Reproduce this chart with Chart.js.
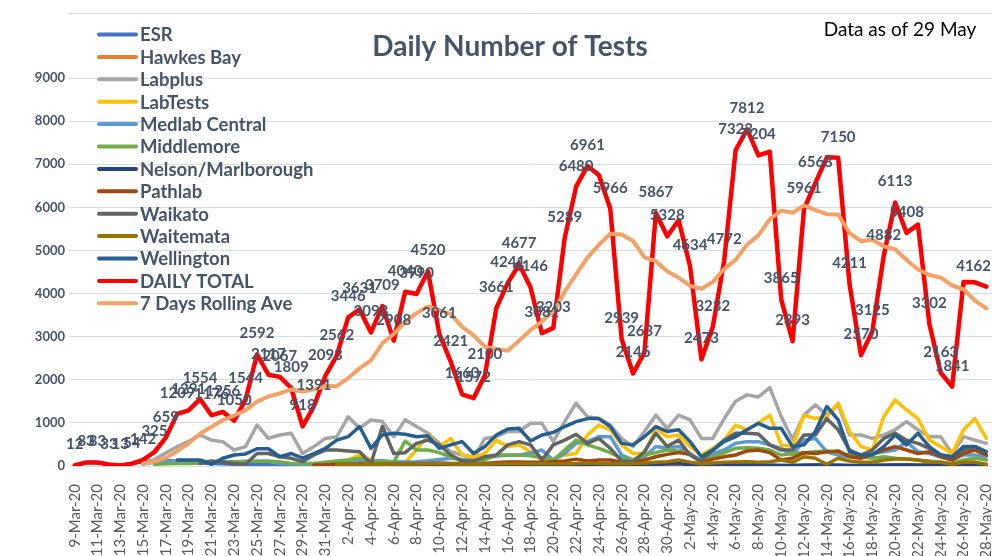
<!DOCTYPE html>
<html>
<head>
<meta charset="utf-8">
<script src="https://cdn.jsdelivr.net/npm/chart.js@4.4.0/dist/chart.umd.min.js"></script>
<style>
  body { margin: 0; background: #fff; }
  #wrap { width: 992px; height: 556px; position: relative; }
</style>
</head>
<body>
<div id="wrap"><canvas id="tests"></canvas></div>
<script>
// categories (every day, only every 2nd one is printed on the axis)
const dates = [
  '9-Mar-20','10-Mar-20','11-Mar-20','12-Mar-20','13-Mar-20','14-Mar-20','15-Mar-20','16-Mar-20','17-Mar-20','18-Mar-20',
  '19-Mar-20','20-Mar-20','21-Mar-20','22-Mar-20','23-Mar-20','24-Mar-20','25-Mar-20','26-Mar-20','27-Mar-20','28-Mar-20',
  '29-Mar-20','30-Mar-20','31-Mar-20','1-Apr-20','2-Apr-20','3-Apr-20','4-Apr-20','5-Apr-20','6-Apr-20','7-Apr-20',
  '8-Apr-20','9-Apr-20','10-Apr-20','11-Apr-20','12-Apr-20','13-Apr-20','14-Apr-20','15-Apr-20','16-Apr-20','17-Apr-20',
  '18-Apr-20','19-Apr-20','20-Apr-20','21-Apr-20','22-Apr-20','23-Apr-20','24-Apr-20','25-Apr-20','26-Apr-20','27-Apr-20',
  '28-Apr-20','29-Apr-20','30-Apr-20','1-May-20','2-May-20','3-May-20','4-May-20','5-May-20','6-May-20','7-May-20',
  '8-May-20','9-May-20','10-May-20','11-May-20','12-May-20','13-May-20','14-May-20','15-May-20','16-May-20','17-May-20',
  '18-May-20','19-May-20','20-May-20','21-May-20','22-May-20','23-May-20','24-May-20','25-May-20','26-May-20','27-May-20',
  '28-May-20'
];

const esr = [
  12, 83, 83, 33, 13, 54, 100, 120, 130, 110,
  90, 70, 60, 50, 40, 40, 30, 30, 30, 25,
  20, 20, 20, 25, 30, 30, 20, 20, 25, 30,
  30, 25, 20, 20, 15, 15, 20, 25, 25, 20,
  20, 15, 15, 20, 25, 25, 20, 20, 15, 10,
  15, 20, 25, 20, 15, 10, 15, 20, 20, 20,
  20, 15, 10, 10, 15, 20, 20, 15, 10, 10,
  15, 20, 25, 25, 20, 15, 10, 10, 15, 20,
  20
];
const hawkesBay = [
  null, null, null, null, null, null, null, null, null, null,
  null, null, null, null, null, null, null, null, null, null,
  null, null, null, null, null, null, null, null, null, null,
  null, null, null, null, null, null, null, null, null, null,
  5, 5, 10, 10, 15, 15, 10, 10, 5, 5,
  10, 15, 15, 15, 10, 5, 10, 15, 15, 15,
  15, 10, 5, 5, 10, 15, 15, 10, 5, 5,
  10, 20, 30, 35, 30, 25, 15, 5, 10, 15,
  15
];
const labplus = [
  null, null, null, null, null, null, 30, 150, 300, 450,
  570, 720, 600, 565, 370, 450, 950, 640, 720, 760,
  290, 450, 640, 680, 1140, 875, 1070, 1030, 680, 1070,
  915, 760, 525, 330, 255, 180, 640, 680, 800, 800,
  990, 990, 565, 1030, 1460, 1140, 1100, 950, 640, 450,
  800, 1180, 875, 1180, 1070, 640, 640, 1100, 1500, 1650,
  1600, 1820, 1150, 620, 1180, 1420, 1180, 1420, 720, 720,
  640, 720, 840, 1030, 840, 680, 680, 290, 680, 600,
  525
];
const labTests = [
  null, null, null, null, null, null, null, null, null, null,
  null, null, null, null, null, null, null, null, null, null,
  null, null, 50, 85, 140, 255, 140, 85, 85, 85,
  370, 720, 450, 640, 255, 215, 290, 600, 450, 490,
  330, 140, 140, 255, 290, 720, 950, 840, 490, 290,
  290, 875, 680, 720, 450, 255, 410, 600, 950, 840,
  1000, 1180, 490, 450, 1180, 1100, 1140, 1460, 800, 450,
  370, 1140, 1530, 1300, 1100, 600, 450, 290, 840, 1100,
  640
];
const medlabCentral = [
  null, null, null, null, null, null, 60, 80, 100, 110,
  110, 110, 100, 100, 100, 110, 110, 110, 60, 50,
  40, 40, 50, 60, 80, 100, 120, 120, 100, 90,
  100, 120, 150, 180, 150, 120, 180, 230, 250, 250,
  300, 370, 140, 290, 525, 565, 680, 680, 255, 140,
  215, 450, 410, 450, 290, 115, 290, 370, 525, 565,
  565, 490, 410, 255, 600, 640, 330, 255, 215, 255,
  290, 330, 370, 565, 330, 290, 215, 140, 255, 255,
  215
];
const middlemore = [
  null, null, null, null, null, null, null, 40, 50, 60,
  60, 70, 80, 90, 100, 100, 110, 110, 100, 60,
  60, 60, 85, 115, 140, 180, 115, 100, 85, 580,
  370, 370, 310, 215, 115, 100, 140, 255, 255, 255,
  240, 195, 140, 370, 600, 490, 410, 310, 180, 140,
  255, 310, 370, 350, 270, 115, 215, 310, 410, 425,
  410, 370, 255, 290, 310, 330, 350, 310, 255, 215,
  180, 215, 180, 160, 140, 115, 85, 60, 140, 180,
  140
];
const nelsonMarlborough = [
  null, null, null, null, null, null, null, null, null, null,
  null, null, null, null, null, null, null, null, null, null,
  null, 10, 10, 15, 15, 20, 20, 15, 15, 20,
  20, 25, 20, 15, 10, 10, 15, 20, 20, 20,
  20, 15, 15, 20, 25, 25, 20, 20, 15, 10,
  15, 30, 50, 60, 30, 10, 20, 25, 30, 30,
  25, 20, 10, 10, 20, 25, 25, 20, 10, 10,
  15, 20, 25, 25, 20, 15, 10, 10, 20, 25,
  20
];
const pathlab = [
  null, null, null, null, null, null, null, null, null, null,
  null, null, null, null, null, null, null, null, null, null,
  null, 20, 30, 40, 40, 50, 50, 40, 50, 60,
  60, 60, 70, 60, 50, 40, 60, 80, 90, 90,
  85, 85, 100, 115, 160, 115, 140, 140, 85, 85,
  140, 215, 270, 310, 270, 85, 160, 215, 255, 350,
  370, 310, 140, 180, 310, 290, 330, 350, 215, 180,
  270, 370, 450, 370, 290, 330, 215, 140, 290, 370,
  255
];
const waikato = [
  null, null, null, null, null, null, null, null, null, null,
  null, 60, 115, 85, 60, 40, 290, 290, 215, 180,
  100, 255, 370, 370, 350, 330, 60, 915, 290, 310,
  525, 600, 490, 255, 115, 115, 215, 255, 490, 565,
  490, 140, 490, 600, 735, 525, 640, 410, 115, 100,
  330, 760, 450, 600, 255, 115, 370, 600, 760, 760,
  740, 490, 370, 370, 720, 720, 1100, 840, 370, 255,
  370, 640, 760, 600, 525, 410, 255, 215, 370, 450,
  330
];
const waitemata = [
  null, null, null, null, null, null, null, null, null, null,
  null, null, null, null, null, null, null, null, null, null,
  null, null, null, 30, 40, 40, 40, 40, 45, 45,
  45, 50, 50, 45, 40, 40, 45, 50, 50, 50,
  55, 50, 50, 55, 60, 70, 60, 55, 50, 50,
  70, 85, 100, 140, 90, 50, 70, 85, 90, 100,
  85, 100, 140, 85, 215, 180, 40, 180, 115, 85,
  85, 140, 160, 160, 140, 85, 85, 40, 85, 85,
  40
];
const wellington = [
  null, null, null, null, null, null, null, null, null, 140,
  140, 140, 40, 180, 255, 280, 400, 400, 215, 290,
  180, 290, 410, 600, 680, 915, 410, 720, 760, 735,
  680, 700, 410, 490, 565, 290, 450, 720, 860, 875,
  580, 720, 780, 915, 1030, 1100, 1100, 915, 525, 490,
  680, 915, 800, 840, 565, 215, 370, 565, 680, 840,
  990, 875, 875, 450, 490, 800, 1380, 1070, 330, 255,
  255, 450, 720, 490, 760, 450, 255, 215, 450, 450,
  330
];
const dailyTotal = [
  12, 83, 83, 33, 13, 54, 142, 325, 659, 1209,
  1291, 1554, 1176, 1256, 1050, 1544, 2592, 2117, 2067, 1809,
  918, 1391, 2093, 2562, 3446, 3631, 3098, 3709, 2908, 4040,
  3990, 4520, 3061, 2421, 1660, 1572, 2100, 3661, 4241, 4677,
  4146, 3081, 3203, 5289, 6480, 6961, 6750, 5966, 2939, 2146,
  2637, 5867, 5328, 5700, 4634, 2473, 3232, 4772, 7323, 7812,
  7204, 7290, 3865, 2893, 5961, 6568, 7160, 7150, 4211, 2570,
  3125, 4882, 6113, 5408, 5600, 3302, 2163, 1841, 4270, 4260,
  4162
];
const rollingAve = [
  null, null, null, null, null, null, 60, 105, 187, 348,
  528, 748, 908, 1067, 1171, 1297, 1495, 1613, 1686, 1776,
  1728, 1777, 1855, 1851, 2041, 2264, 2448, 2847, 3064, 3342,
  3546, 3699, 3618, 3521, 3229, 3038, 2761, 2714, 2674, 2905,
  3151, 3354, 3587, 4043, 4445, 4834, 5130, 5390, 5370, 5219,
  4840, 4752, 4519, 4369, 4179, 4112, 4267, 4572, 4780, 5135,
  5350, 5724, 5923, 5874, 6044, 5936, 5842, 5834, 5400, 5215,
  5248, 5094, 5029, 4780, 4558, 4429, 4370, 4187, 4100, 3835,
  3657
];
// daily total points that carry no value label in the original
const noLabel = [46, 53, 61, 66, 74, 78, 79];

const textColor = '#44546A';
const fontFam = 'Lato, "Open Sans", sans-serif';

const series = [
  { label: 'ESR', data: esr, color: '#4472C4' },
  { label: 'Hawkes Bay', data: hawkesBay, color: '#ED7D31' },
  { label: 'Labplus', data: labplus, color: '#A5A5A5' },
  { label: 'LabTests', data: labTests, color: '#FFC000' },
  { label: 'Medlab Central', data: medlabCentral, color: '#5B9BD5' },
  { label: 'Middlemore', data: middlemore, color: '#70AD47' },
  { label: 'Nelson/Marlborough', data: nelsonMarlborough, color: '#264478' },
  { label: 'Pathlab', data: pathlab, color: '#9E480E' },
  { label: 'Waikato', data: waikato, color: '#636363' },
  { label: 'Waitemata', data: waitemata, color: '#997300' },
  { label: 'Wellington', data: wellington, color: '#255E91' },
  { label: 'DAILY TOTAL', data: dailyTotal, color: '#FF0000', width: 4.5 },
  { label: '7 Days Rolling Ave', data: rollingAve, color: '#F4A165', width: 4 }
];

const datasets = series.map((s, i) => ({
  label: s.label,
  data: s.data,
  borderColor: s.color,
  backgroundColor: s.color,
  borderWidth: s.width || 3.5,
  borderJoinStyle: 'round',
  borderCapStyle: 'round',
  pointRadius: 0,
  tension: 0,
  fill: false,
  order: series.length - i   // later series on top, like excel
}));

// title, note, legend and the value labels are painted by hand
const decor = {
  id: 'decor',
  beforeDatasetsDraw(chart) {
    const ctx = chart.ctx;
    ctx.save();
    ctx.strokeStyle = '#D9DEE6';
    ctx.lineWidth = 1;
    ctx.beginPath();
    ctx.moveTo(chart.chartArea.left, 13.5);
    ctx.lineTo(chart.chartArea.right, 13.5);
    ctx.stroke();
    ctx.restore();
  },
  afterDatasetsDraw(chart) {
    const ctx = chart.ctx;
    const meta = chart.getDatasetMeta(11);
    ctx.save();
    ctx.font = 'bold 15px ' + fontFam;
    ctx.fillStyle = textColor;
    ctx.textAlign = 'center';
    ctx.textBaseline = 'alphabetic';
    meta.data.forEach((pt, i) => {
      if (noLabel.includes(i)) return;
      const txt = String(dailyTotal[i]);
      const w = ctx.measureText(txt).width;
      const x = Math.min(pt.x, chart.width - w / 2 - 1);
      ctx.fillText(txt, x, pt.y - 16);
    });
    ctx.restore();
  },
  afterDraw(chart) {
    const ctx = chart.ctx;
    ctx.save();
    ctx.fillStyle = textColor;
    ctx.textAlign = 'center';
    ctx.textBaseline = 'middle';
    ctx.font = 'bold 28px ' + fontFam;
    ctx.fillText('Daily Number of Tests', 510, 47);

    ctx.fillStyle = '#000';
    ctx.font = '19px ' + fontFam;
    ctx.fillText('Data as of 29 May', 900, 30);

    // legend
    ctx.textAlign = 'left';
    ctx.font = 'bold 18.5px ' + fontFam;
    series.forEach((s, i) => {
      const y = 34.5 + i * 22.4;
      ctx.strokeStyle = s.color;
      ctx.lineWidth = 4;
      ctx.lineCap = 'round';
      ctx.beginPath();
      ctx.moveTo(99, y);
      ctx.lineTo(136, y);
      ctx.stroke();
      ctx.fillStyle = textColor;
      ctx.fillText(s.label, 140, y + 1);
    });
    ctx.restore();
  }
};

const chart = new Chart(document.getElementById('tests'), {
  type: 'line',
  data: { labels: dates, datasets: datasets },
  options: {
    responsive: true,
    maintainAspectRatio: false,
    animation: false,
    layout: { padding: { top: 78, right: 0, bottom: 0, left: 0 } },
    plugins: {
      legend: { display: false },
      title: { display: false },
      tooltip: { enabled: false }
    },
    scales: {
      x: {
        offset: true,
        grid: { display: false },
        border: { display: false },
        ticks: {
          autoSkip: false,
          maxRotation: 90,
          minRotation: 90,
          padding: 10,
          color: '#595959',
          font: { family: fontFam, size: 15 },
          callback: function (value, index) {
            return index % 2 === 0 ? this.getLabelForValue(value) : '';
          }
        },
        afterFit: (scale) => {
          scale.height = 90;
          scale.paddingLeft = 0;
          scale.paddingRight = 0;
        }
      },
      y: {
        min: 0,
        max: 9000,
        grid: { color: '#D9DEE6', lineWidth: 1, drawTicks: false },
        border: { display: false },
        ticks: {
          stepSize: 1000,
          padding: 4,
          color: textColor,
          font: { family: fontFam, size: 13, weight: 'bold' },
          callback: (value) => String(value)
        },
        afterFit: (scale) => { scale.width = 69; }
      }
    }
  },
  plugins: [decor]
});
</script>
</body>
</html>
